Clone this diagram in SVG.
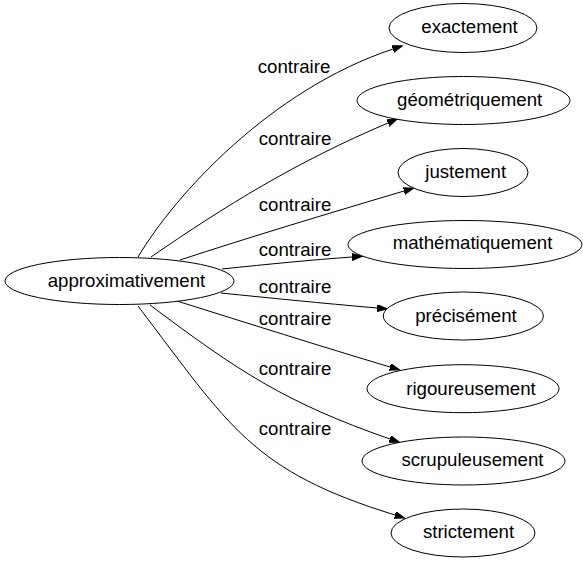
<svg xmlns="http://www.w3.org/2000/svg" width="583" height="563" viewBox="0 0 583 563">
<style>
  .node ellipse { fill: #ffffff; stroke: #000000; stroke-width: 1; }
  .node text { font-family: "Liberation Sans", Arial, sans-serif; font-size: 18.67px; fill: #000000; text-anchor: middle; }
  .edge path { fill: none; stroke: #000000; stroke-width: 1; }
  .label { font-family: "Liberation Sans", Arial, sans-serif; font-size: 18.67px; fill: #000000; text-anchor: middle; }
</style>
<defs>
  <marker id="arrow" markerUnits="userSpaceOnUse" markerWidth="11" markerHeight="8" refX="0" refY="3.5" orient="auto" viewBox="0 0 11 8">
    <path d="M0,0 L10,3.5 L0,7 z" fill="#000000" stroke="#000000" stroke-width="1"/>
  </marker>
</defs>
<rect x="0" y="0" width="583" height="563" fill="#ffffff"/>
<g id="edges">
  <g class="edge"><path d="M138,257 C175,195 270,90 393,49" marker-end="url(#arrow)"/></g>
  <g class="edge"><path d="M151,257 C225,206 296,162 388,123" marker-end="url(#arrow)"/></g>
  <g class="edge"><path d="M180,260 C250,237 330,213 404,191" marker-end="url(#arrow)"/></g>
  <g class="edge"><path d="M222,269 C270,264 310,260 352,257" marker-end="url(#arrow)"/></g>
  <g class="edge"><path d="M221,293 C270,298 320,303 377,308" marker-end="url(#arrow)"/></g>
  <g class="edge"><path d="M177,301 C250,324 320,346 390,367" marker-end="url(#arrow)"/></g>
  <g class="edge"><path d="M150,305 C238,371 286,403 390,439" marker-end="url(#arrow)"/></g>
  <g class="edge"><path d="M138,306 C230,427 252,471 395,515" marker-end="url(#arrow)"/></g>
  <text class="label" x="294" y="72.5">contraire</text>
  <text class="label" x="295" y="145">contraire</text>
  <text class="label" x="295" y="211">contraire</text>
  <text class="label" x="295" y="256">contraire</text>
  <text class="label" x="295" y="293">contraire</text>
  <text class="label" x="295" y="325">contraire</text>
  <text class="label" x="295" y="375">contraire</text>
  <text class="label" x="295" y="435">contraire</text>
</g>
<g id="node_approximativement" class="node"><ellipse cx="119.5" cy="281" rx="114.5" ry="23.5"/><text x="126.5" y="286.5">approximativement</text></g>
<g id="node_exactement" class="node"><ellipse cx="463" cy="28" rx="74" ry="24.5"/><text x="469.5" y="33.3">exactement</text></g>
<g id="node_geometriquement" class="node"><ellipse cx="463.5" cy="100.5" rx="106.5" ry="24"/><text x="469.7" y="105.7">géométriquement</text></g>
<g id="node_justement" class="node"><ellipse cx="463" cy="172.5" rx="65" ry="24"/><text x="465.7" y="177.5">justement</text></g>
<g id="node_mathematiquement" class="node"><ellipse cx="465" cy="244.5" rx="117" ry="24"/><text x="472.5" y="249">mathématiquement</text></g>
<g id="node_precisement" class="node"><ellipse cx="463.3" cy="316" rx="80" ry="24"/><text x="466" y="321.7">précisément</text></g>
<g id="node_rigoureusement" class="node"><ellipse cx="463" cy="388.7" rx="96" ry="24"/><text x="471" y="394.5">rigoureusement</text></g>
<g id="node_scrupuleusement" class="node"><ellipse cx="463.5" cy="461" rx="101.5" ry="24"/><text x="472.5" y="466">scrupuleusement</text></g>
<g id="node_strictement" class="node"><ellipse cx="463" cy="533" rx="72" ry="24"/><text x="468.5" y="537.5">strictement</text></g>
</svg>
